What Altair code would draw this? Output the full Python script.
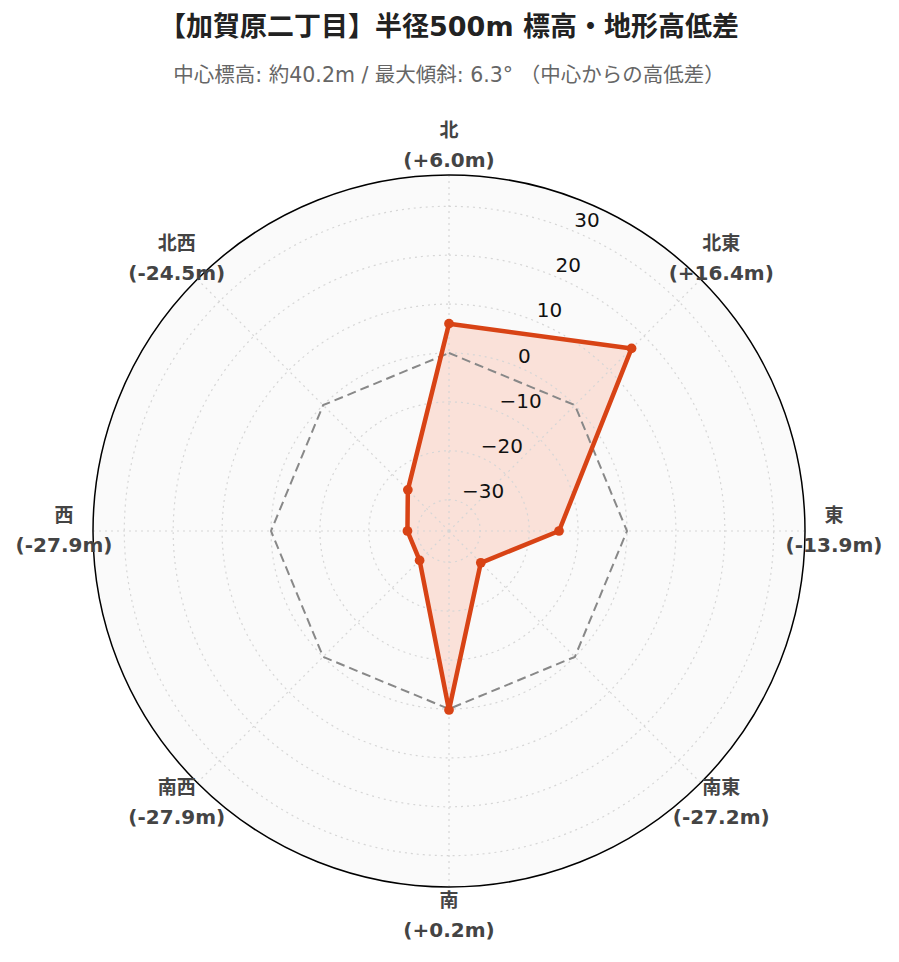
import math
import altair as alt
import pandas as pd

# ---------------- data ----------------
title_text = "【加賀原二丁目】半径500m 標高・地形高低差"
subtitle_text = "中心標高: 約40.2m / 最大傾斜: 6.3° （中心からの高低差）"
directions = ["北", "北東", "東", "南東", "南", "南西", "西", "北西"]
bearings = [0, 45, 90, 135, 180, 225, 270, 315]
elev_diff = [6.0, 16.4, -13.9, -27.2, 0.2, -27.9, -27.9, -24.5]
reference_level = [0, 0, 0, 0, 0, 0, 0, 0]
radial_ticks = [-30, -20, -10, 0, 10, 20, 30]
radial_range = [-36.4, 36.4]

# ---------------- style / layout ----------------
R_MIN = radial_range[0]
R_SPAN = radial_range[1] - radial_range[0]
PLOT = 712
TICK_BEARING = 22.5
LABEL_R = R_SPAN * 385 / 356
LINE_COLOR = "#d84315"
FILL_COLOR = "#ff5722"
GRID_COLOR = "#d6d6d6"
FONT_LATIN = "DejaVu Sans, Noto Sans CJK JP, sans-serif"

xscale = alt.Scale(domain=[-R_SPAN, R_SPAN], nice=False, zero=False)
yscale = alt.Scale(domain=[-R_SPAN, R_SPAN], nice=False, zero=False)
rscale = alt.Scale(type="linear", domain=[0, R_SPAN], range=[0, PLOT / 2], zero=True)


def polar(chart, rad_expr, bearing_field="bearing"):
    return (
        chart.transform_calculate(r=rad_expr)
        .transform_calculate(px=f"datum.r*sin(datum.{bearing_field}*PI/180)")
        .transform_calculate(py=f"datum.r*cos(datum.{bearing_field}*PI/180)")
    )


def fmt_label(v):
    return f"({v:+.1f}m)"


poly_df = pd.DataFrame({
    "dir": directions + [directions[0]],
    "bearing": bearings + [360],
    "value": elev_diff + [elev_diff[0]],
    "order": list(range(len(directions) + 1)),
})
ref_df = pd.DataFrame({
    "bearing": bearings + [360],
    "value": reference_level + [reference_level[0]],
    "order": list(range(len(directions) + 1)),
})
pts_df = pd.DataFrame({"dir": directions, "bearing": bearings, "value": elev_diff})
dir_df = pd.DataFrame({
    "dir": directions,
    "bearing": bearings,
    "vlabel": [fmt_label(v) for v in elev_diff],
})
tick_df = pd.DataFrame({
    "tick": radial_ticks,
    "label": [str(t).replace("-", "\u2212") for t in radial_ticks],
    "bearing": [TICK_BEARING] * len(radial_ticks),
})
outer_df = pd.DataFrame({"tick": [radial_range[1]]})
spoke_df = pd.DataFrame({"bearing": bearings})

X = lambda f: alt.X(f"{f}:Q", scale=xscale, axis=None)
Y = lambda f: alt.Y(f"{f}:Q", scale=yscale, axis=None)
RAD = lambda: alt.Radius("r:Q", scale=rscale, stack=False)

# background disc
bg = alt.Chart(outer_df).mark_arc(
    fill="#fafafa", theta=0, theta2=2 * math.pi
).transform_calculate(r=f"datum.tick - ({R_MIN})").encode(radius=RAD())

# data polygon fill
data_fill = polar(alt.Chart(poly_df), f"datum.value - ({R_MIN})").mark_line(
    strokeWidth=0, fill=FILL_COLOR, fillOpacity=0.15
).encode(x=X("px"), y=Y("py"), order=alt.Order("order:Q"))

# grid circles
grid = alt.Chart(tick_df).mark_arc(
    fill="transparent", stroke=GRID_COLOR, strokeWidth=1.2, strokeDash=[2, 4],
    theta=0, theta2=2 * math.pi
).transform_calculate(r=f"datum.tick - ({R_MIN})").encode(radius=RAD())

# spokes
spokes = alt.Chart(spoke_df).mark_rule(
    stroke=GRID_COLOR, strokeWidth=1.2, strokeDash=[2, 4]
).transform_calculate(
    cx="0", cy="0",
    ex=f"{R_SPAN}*sin(datum.bearing*PI/180)",
    ey=f"{R_SPAN}*cos(datum.bearing*PI/180)",
).encode(x=X("cx"), y=Y("cy"), x2="ex:Q", y2="ey:Q")

# outer circle
outer = alt.Chart(outer_df).mark_arc(
    fill="transparent", stroke="#000000", strokeWidth=1.5,
    theta=0, theta2=2 * math.pi
).transform_calculate(r=f"datum.tick - ({R_MIN})").encode(radius=RAD())

# dashed zero reference
ref_line = polar(alt.Chart(ref_df), f"datum.value - ({R_MIN})").mark_line(
    stroke="#888888", strokeWidth=2, strokeDash=[9, 5]
).encode(x=X("px"), y=Y("py"), order=alt.Order("order:Q"))

# data polygon outline
data_line = polar(alt.Chart(poly_df), f"datum.value - ({R_MIN})").mark_line(
    stroke=LINE_COLOR, strokeWidth=4.5, strokeJoin="round"
).encode(x=X("px"), y=Y("py"), order=alt.Order("order:Q"))

points = polar(alt.Chart(pts_df), f"datum.value - ({R_MIN})").mark_circle(
    size=95, color=LINE_COLOR, opacity=1
).encode(x=X("px"), y=Y("py"))

# radial tick labels
tick_labels = polar(alt.Chart(tick_df), f"datum.tick - ({R_MIN})").mark_text(
    align="left", baseline="middle", dx=1, dy=-10, fontSize=20,
    font=FONT_LATIN, color="#111111"
).encode(x=X("px"), y=Y("py"), text="label:N")

# direction labels
dir_names = polar(alt.Chart(dir_df), f"{LABEL_R}").mark_text(
    align="center", baseline="middle", dy=-15, fontSize=19, fontWeight="bold",
    font=FONT_LATIN, color="#444444"
).encode(x=X("px"), y=Y("py"), text="dir:N")

dir_vals = polar(alt.Chart(dir_df), f"{LABEL_R}").mark_text(
    align="center", baseline="middle", dy=15, fontSize=20, fontWeight="bold",
    font=FONT_LATIN, color="#444444"
).encode(x=X("px"), y=Y("py"), text="vlabel:N")

chart = alt.layer(
    bg, data_fill, grid, spokes, outer, ref_line, data_line, points,
    tick_labels, dir_names, dir_vals
).properties(
    width=PLOT,
    height=PLOT,
    autosize=alt.AutoSizeParams(type="none"),
    padding={"left": 85, "top": 167, "right": 86, "bottom": 67},
    background="#ffffff",
    title=alt.TitleParams(
        text=title_text,
        subtitle=subtitle_text,
        anchor="middle",
        font=FONT_LATIN,
        fontSize=27,
        fontWeight="bold",
        color="#222222",
        subtitleFont=FONT_LATIN,
        subtitleFontSize=20.5,
        subtitleColor="#666666",
        subtitlePadding=24,
        offset=35,
    ),
).configure_view(stroke=None)

chart.save("out.html", embed_options={"renderer": "svg", "actions": False})
